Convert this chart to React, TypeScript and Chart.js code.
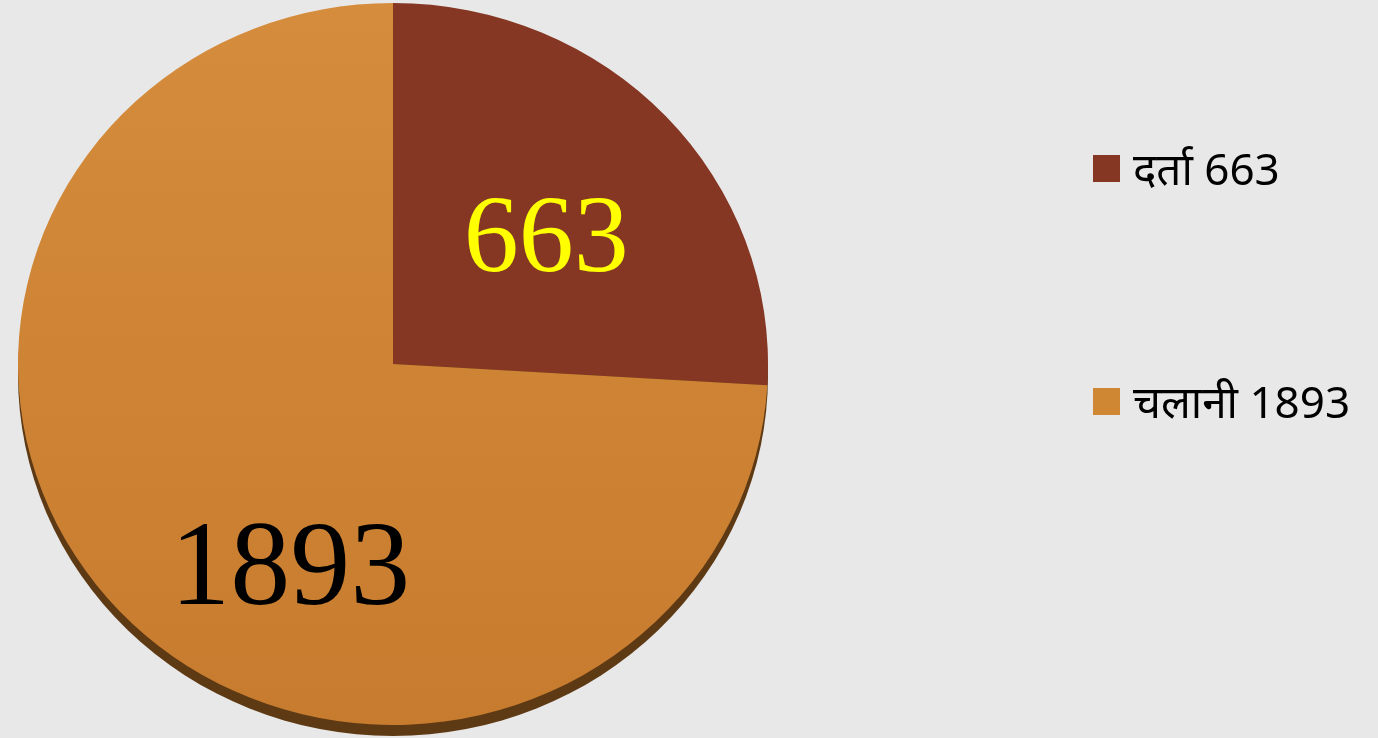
import React, { useEffect, useRef } from "react";
import { Chart, registerables } from "chart.js";

Chart.register(...registerables);

const categories = ["दर्ता", "चलानी"];
const values = [663, 1893];
const sliceColors = ["#853724", "#d08734"];
const labelColors = ["#ffff00", "#000000"];
// [fraction of slice angle, fraction of radius] for the value labels
const labelAnchors = [
  [0.54, 0.53],
  [0.42, 0.64],
];

const SX = 375 / 364;
const SY = 361 / 364;

export default function App() {
  const ref = useRef<HTMLCanvasElement | null>(null);

  useEffect(() => {
    document.body.style.margin = "0";
    document.body.style.background = "#e8e8e8";
    const canvas = ref.current!;
    const ellipsePlugin = {
      id: "ellipse3d",
      beforeDatasetsDraw(chart: any) {
        const meta = chart.getDatasetMeta(0);
        const arc = meta.data[0];
        if (!arc) return;
        const { x, y, outerRadius } = arc;
        const ctx = chart.ctx;
        // 3D edge under the pie
        ctx.save();
        ctx.fillStyle = "#5e3a14";
        ctx.beginPath();
        ctx.ellipse(x, y + 11, outerRadius * SX, outerRadius * SY, 0, 0, Math.PI * 2);
        ctx.fill();
        ctx.restore();
        ctx.save();
        ctx.translate(x, y);
        ctx.scale(SX, SY);
        ctx.translate(-x, -y);
      },
      afterDatasetsDraw(chart: any) {
        chart.ctx.restore();
        const meta = chart.getDatasetMeta(0);
        const ctx = chart.ctx;
        ctx.save();
        meta.data.forEach((arc: any, i: number) => {
          const [af, rf] = labelAnchors[i];
          const a = arc.startAngle + (arc.endAngle - arc.startAngle) * af;
          const r = arc.outerRadius * rf;
          const px = arc.x + Math.cos(a) * r * SX;
          const py = arc.y + Math.sin(a) * r * SY;
          ctx.font = i === 0 ? "110px 'Liberation Serif', serif" : "120px 'Liberation Serif', serif";
          ctx.fillStyle = labelColors[i];
          ctx.textAlign = "center";
          ctx.textBaseline = "middle";
          ctx.fillText(String(values[i]), px, py);
        });
        ctx.restore();
        // legend
        ctx.save();
        const legendY = [168, 401];
        categories.forEach((c, i) => {
          ctx.fillStyle = sliceColors[i];
          ctx.fillRect(1093, legendY[i] - 13, 27, 27);
          ctx.fillStyle = "#000000";
          ctx.font = "44px 'Noto Sans', 'Open Sans', sans-serif";
          ctx.textAlign = "left";
          ctx.textBaseline = "middle";
          ctx.fillText(c + " " + values[i], 1133, legendY[i] + 4);
        });
        ctx.restore();
      },
    };

    const chart = new Chart(canvas, {
      type: "pie",
      data: {
        labels: categories,
        datasets: [
          {
            data: values,
            backgroundColor: (ctx: any) => {
              const i = ctx.dataIndex;
              if (i === 1 && ctx.chart.chartArea) {
                const g = ctx.chart.ctx.createLinearGradient(0, 0, 0, 738);
                g.addColorStop(0, "#d58c3c");
                g.addColorStop(1, "#c77b2e");
                return g;
              }
              return sliceColors[i];
            },
            borderWidth: 0,
          },
        ],
      },
      options: {
        animation: false,
        responsive: false,
        maintainAspectRatio: false,
        layout: { padding: { left: 29, right: 621, top: 0, bottom: 10 } },
        plugins: {
          legend: { display: false },
          tooltip: { enabled: false },
        },
      },
      plugins: [ellipsePlugin],
    });
    return () => chart.destroy();
  }, []);

  return (
    <div style={{ width: 1378, height: 738, background: "#e8e8e8", overflow: "hidden" }}>
      <canvas ref={ref} width={1378} height={738} style={{ display: "block" }} />
    </div>
  );
}
